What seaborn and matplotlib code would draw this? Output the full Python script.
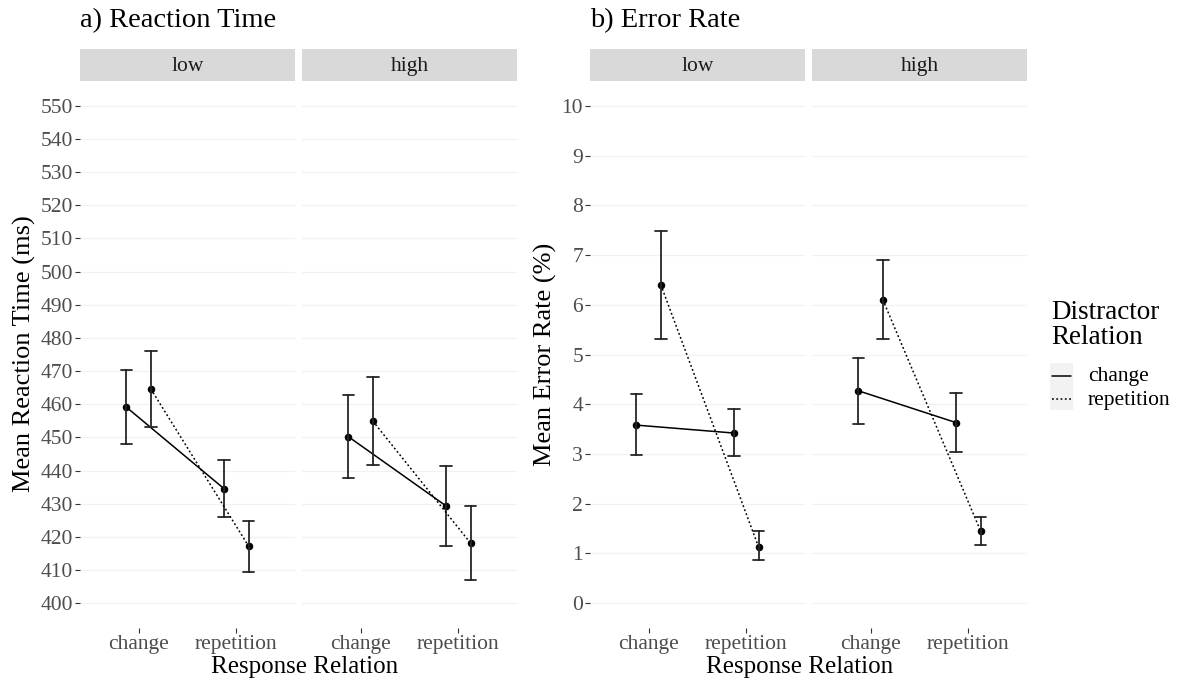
import numpy as np
import pandas as pd
import matplotlib
matplotlib.use("Agg")
import matplotlib.pyplot as plt
from matplotlib.lines import Line2D
from matplotlib.patches import Rectangle
import seaborn as sns

# ---------------- data ----------------
response_relation = ["change", "change", "repetition", "repetition"]
distractor_relation = ["change", "repetition", "change", "repetition"]
facet_levels = ["low", "high"]

rt_low_mean = [459.1, 464.6, 434.5, 417.2]
rt_low_lower = [448.0, 453.1, 426.1, 409.5]
rt_low_upper = [470.2, 476.1, 443.1, 424.8]
rt_high_mean = [450.2, 454.9, 429.3, 418.1]
rt_high_lower = [437.8, 441.7, 417.2, 406.9]
rt_high_upper = [462.7, 468.1, 441.5, 429.3]

er_low_mean = [3.58, 6.40, 3.42, 1.13]
er_low_lower = [2.98, 5.31, 2.96, 0.87]
er_low_upper = [4.20, 7.48, 3.90, 1.45]
er_high_mean = [4.27, 6.10, 3.63, 1.45]
er_high_lower = [3.60, 5.31, 3.03, 1.17]
er_high_upper = [4.93, 6.91, 4.22, 1.73]

rt_ticks = list(range(400, 551, 10))
er_ticks = list(range(0, 11, 1))

# ---------------- style ----------------
sns.set_theme(style="white")
plt.rcParams["font.family"] = ["Liberation Serif", "DejaVu Serif"]

TICK_COL = "#4D4D4D"
W, H = 1179, 681
fig = plt.figure(figsize=(W / 100, H / 100), dpi=100)


def add_ax(x0, x1, y0, y1):
    return fig.add_axes([x0 / W, 1 - y1 / H, (x1 - x0) / W, (y1 - y0) / H])


def long_frame(mean, lower, upper):
    rows = []
    for r, d, m, lo, hi in zip(response_relation, distractor_relation, mean, lower, upper):
        for v in (lo, m, hi):
            rows.append({"Response": r, "Distractor": d, "value": v})
    return pd.DataFrame(rows)


def draw_panel(ax, mean, lower, upper, ticks, strip_label, show_y):
    df = long_frame(mean, lower, upper)
    sns.pointplot(
        data=df, x="Response", y="value", hue="Distractor",
        order=["change", "repetition"], hue_order=["change", "repetition"],
        estimator="median", errorbar=("pi", 100),
        palette={"change": "black", "repetition": "black"},
        markers="o", linestyles=["-", (0, (1.2, 1.6))],
        dodge=0.25, capsize=0.12, legend=False, ax=ax,
        linewidth=1.1, markersize=4.6,
        err_kws={"linewidth": 1.3, "color": "#262626"},
    )
    pad = (ticks[-1] - ticks[0]) * 0.05
    ax.set_ylim(ticks[0] - pad, ticks[-1] + pad)
    ax.set_xlim(-0.6, 1.6)
    ax.set_yticks(ticks)
    ax.grid(False)
    ax.yaxis.grid(True, color="#F1F1F1", linewidth=0.9)
    ax.set_axisbelow(True)
    for s in ax.spines.values():
        s.set_visible(False)
    ax.set_xlabel("")
    ax.set_ylabel("")
    ax.tick_params(axis="both", which="major", length=3.5, width=0.8,
                   color="#333333", labelsize=15.5, labelcolor=TICK_COL, pad=1.5,
                   bottom=True, left=True)
    if not show_y:
        ax.tick_params(axis="y", left=False, labelleft=False)
    # strip
    ax.add_patch(Rectangle((0, 1.0), 1, 32 / 547, transform=ax.transAxes,
                           facecolor="#D9D9D9", edgecolor="none", clip_on=False))
    ax.text(0.5, 1.0 + 10 / 547, strip_label, transform=ax.transAxes,
            ha="center", va="baseline", fontsize=15.5, color="#1A1A1A")


top, bot = 81, 628
ax_a1 = add_ax(80, 295, top, bot)
ax_a2 = add_ax(302, 517, top, bot)
ax_b1 = add_ax(590, 805, top, bot)
ax_b2 = add_ax(812, 1027, top, bot)

draw_panel(ax_a1, rt_low_mean, rt_low_lower, rt_low_upper, rt_ticks, facet_levels[0], True)
draw_panel(ax_a2, rt_high_mean, rt_high_lower, rt_high_upper, rt_ticks, facet_levels[1], False)
draw_panel(ax_b1, er_low_mean, er_low_lower, er_low_upper, er_ticks, facet_levels[0], True)
draw_panel(ax_b2, er_high_mean, er_high_lower, er_high_upper, er_ticks, facet_levels[1], False)

# titles and axis labels
fig.text(80 / W, 1 - 21 / H, "a) Reaction Time", fontsize=20.5, ha="left", va="center", color="black")
fig.text(590 / W, 1 - 21 / H, "b) Error Rate", fontsize=20.5, ha="left", va="center", color="black")
fig.text(24 / W, 1 - 354 / H, "Mean Reaction Time (ms)", rotation=90, fontsize=19,
         ha="center", va="center", color="black")
fig.text(545 / W, 1 - 354 / H, "Mean Error Rate (%)", rotation=90, fontsize=19,
         ha="center", va="center", color="black")
fig.text(305 / W, 1 - 667 / H, "Response Relation", fontsize=18, ha="center", va="center", color="black")
fig.text(800 / W, 1 - 667 / H, "Response Relation", fontsize=18, ha="center", va="center", color="black")

# legend
fig.text(1051 / W, 1 - 325 / H, "Distractor\nRelation", fontsize=19.5, ha="left", va="center",
         linespacing=1.0, color="black")
fig.add_artist(Rectangle((1050 / W, 1 - 410 / H), 23 / W, 47 / H, transform=fig.transFigure,
                         facecolor="#F2F2F2", edgecolor="none"))
fig.add_artist(Line2D([1052 / W, 1071 / W], [1 - 376 / H] * 2, transform=fig.transFigure,
                      color="black", linewidth=1.1))
fig.add_artist(Line2D([1052 / W, 1071 / W], [1 - 399 / H] * 2, transform=fig.transFigure,
                      color="black", linewidth=1.1, linestyle=(0, (1.2, 1.6))))
fig.text(1088 / W, 1 - 377 / H, "change", fontsize=15.5, ha="left", va="center", color="black")
fig.text(1088 / W, 1 - 400 / H, "repetition", fontsize=15.5, ha="left", va="center", color="black")

fig.savefig("out.png", dpi=100, facecolor="white")
